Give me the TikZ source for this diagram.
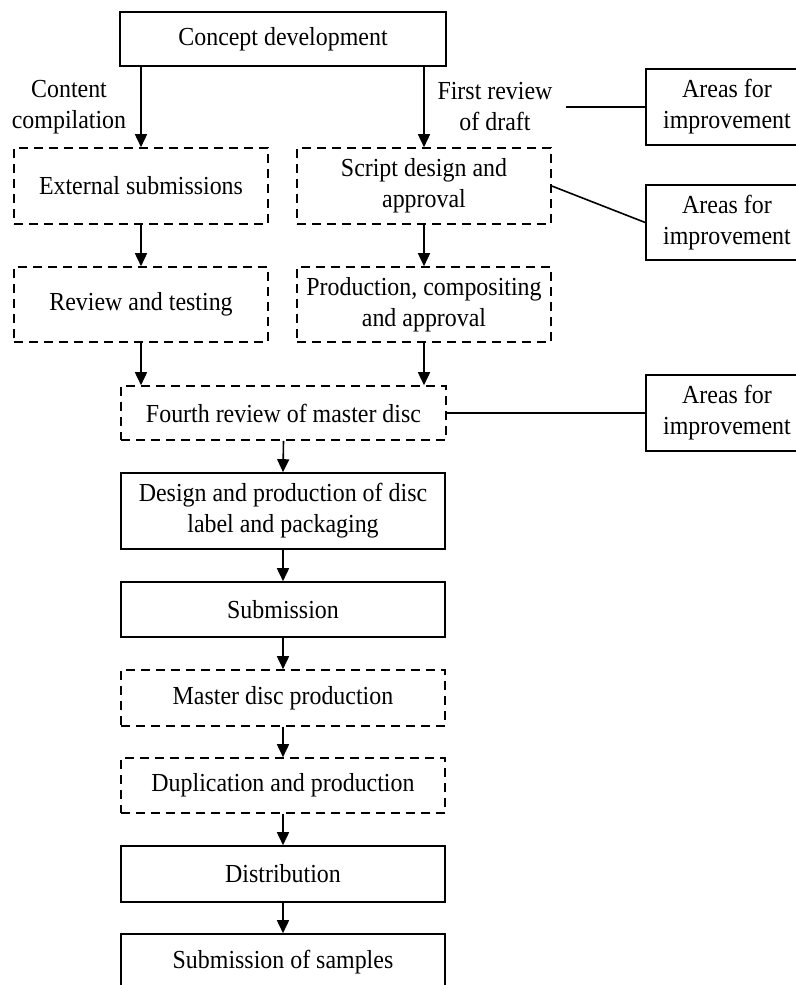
\documentclass[tikz,border=0pt]{standalone}
\usepackage{fontspec}
\setmainfont{Liberation Serif}[FakeStretch=0.92]
\usetikzlibrary{arrows.meta}
\begin{document}
\begin{tikzpicture}[x=1pt,y=-1pt,
  txt/.style={font=\fontsize{26}{31}\selectfont, align=center},
  box/.style={txt, draw, line width=1.6pt, rectangle, inner sep=0pt},
  dbox/.style={box, dash pattern=on 9pt off 6pt},
  arr/.style={line width=1.6pt, -{Triangle[length=13pt,width=12pt]}},
  lnk/.style={line width=1.6pt}]
\useasboundingbox (0,0) rectangle (795,985);

\node[box, minimum width=326pt, minimum height=54pt] (concept) at (283,39) {Concept development};
\node[dbox, minimum width=254pt, minimum height=76pt] (ext) at (141,186) {External submissions};
\node[dbox, minimum width=254pt, minimum height=76pt] (script) at (424,186) {Script design and\\approval};
\node[dbox, minimum width=254pt, minimum height=75pt] (review) at (141,304.5) {Review and testing};
\node[dbox, minimum width=254pt, minimum height=75pt] (prod) at (424,304.5) {Production, compositing\\and approval};
\node[dbox, minimum width=325pt, minimum height=54pt] (fourth) at (283.5,413) {Fourth review of master disc};
\node[box, minimum width=324pt, minimum height=76pt] (design) at (283,511) {Design and production of disc\\label and packaging};
\node[box, minimum width=324pt, minimum height=55pt] (subm) at (283,609.5) {Submission};
\node[dbox, minimum width=324pt, minimum height=56pt] (master) at (283,698) {Master disc production};
\node[dbox, minimum width=324pt, minimum height=55pt] (dup) at (283,785.5) {Duplication and production};
\node[box, minimum width=324pt, minimum height=56pt] (dist) at (283,874) {Distribution};
\node[box, minimum width=324pt, minimum height=56pt] (samples) at (283,962) {Submission of samples};

\node[box, minimum width=162pt, minimum height=76pt] (area1) at (727,107) {Areas for\\improvement};
\node[box, minimum width=162pt, minimum height=75pt] (area2) at (727,222.5) {Areas for\\improvement};
\node[box, minimum width=162pt, minimum height=76pt] (area3) at (727,413) {Areas for\\improvement};

\node[txt] (cc) at (69,107) {Content\\compilation};
\node[txt] (frd) at (495,107) {First review\\of draft};
\coordinate (frend) at (566,107);

\draw[arr] (concept.south -| ext.north) -- (ext.north);
\draw[arr] (concept.south -| script.north) -- (script.north);
\draw[arr] (ext.south) -- (review.north);
\draw[arr] (script.south) -- (prod.north);
\draw[arr] (review.south) -- (review.south |- fourth.north);
\draw[arr] (prod.south) -- (prod.south |- fourth.north);
\draw[arr] (fourth.south) -- (design.north);
\draw[arr] (design.south) -- (subm.north);
\draw[arr] (subm.south) -- (master.north);
\draw[arr] (master.south) -- (dup.north);
\draw[arr] (dup.south) -- (dist.north);
\draw[arr] (dist.south) -- (samples.north);

\draw[lnk] (frend) -- (area1.west);
\draw[lnk] (script.east) -- (area2.west);
\draw[lnk] (fourth.east) -- (area3.west);
\end{tikzpicture}
\end{document}
